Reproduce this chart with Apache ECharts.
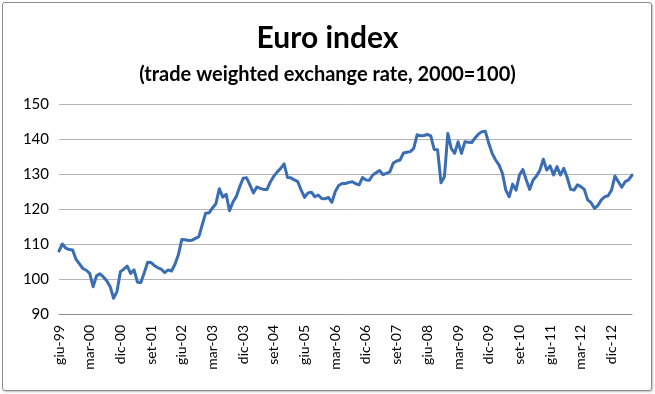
<!DOCTYPE html>
<html>
<head>
<meta charset="utf-8">
<script src="https://cdn.jsdelivr.net/npm/echarts@6/dist/echarts.min.js"></script>
<style>
html,body{margin:0;padding:0;background:#fff;}
#frame{position:absolute;left:2px;top:2px;width:648px;height:387px;border:1px solid #8c8c8c;border-radius:3px;box-shadow:1px 1px 2px rgba(0,0,0,0.25);}
#chart{position:absolute;left:0;top:0;width:655px;height:394px;}
</style>
</head>
<body>
<div id="frame"></div>
<div id="chart"></div>
<script>
// Month abbreviations (Italian) and span of the series
var monthNames = ['gen','feb','mar','apr','mag','giu','lug','ago','set','ott','nov','dic'];
var startYear = 1999, startMonth = 5; // giu-99
// Euro index, monthly, giu-99 .. giu-13
var euroIndex = [
108.0,110.0,108.8,108.4,108.3,105.6,104.3,103.0,102.5,101.6,
97.8,100.9,101.5,100.6,99.5,97.8,94.5,96.4,102.1,102.8,
103.7,101.6,102.6,99.1,99.0,101.8,104.8,104.7,103.8,103.2,
102.8,101.8,102.6,102.3,104.2,106.9,111.3,111.2,111.0,111.1,
111.6,112.1,115.5,118.8,118.9,120.3,121.5,125.8,123.4,124.2,
119.5,122.0,123.6,126.4,128.8,128.9,126.8,124.6,126.3,125.9,
125.6,125.6,127.8,129.4,130.6,131.6,132.9,129.0,128.9,128.3,
127.8,125.4,123.3,124.6,124.8,123.5,124.0,123.0,122.9,123.3,
121.9,125.0,126.7,127.3,127.3,127.6,127.8,127.2,126.9,129.0,
128.3,128.2,129.7,130.4,131.0,129.8,130.2,130.6,133.1,133.7,
134.0,136.0,136.2,136.4,137.3,141.2,140.9,141.0,141.3,140.9,
137.0,136.9,127.5,129.2,141.6,137.3,135.9,139.2,135.9,139.2,
139.1,139.0,140.3,141.4,142.1,142.2,138.8,135.9,134.0,132.6,
130.2,125.4,123.5,127.1,125.4,129.7,131.3,128.3,125.6,128.3,
129.4,131.1,134.2,131.1,132.3,129.7,132.1,129.7,131.6,129.0,
125.6,125.4,126.9,126.4,125.6,122.6,121.8,120.2,121.0,122.6,
123.5,123.8,125.4,129.4,127.8,126.2,127.8,128.3,129.7
];
var yTicks = {min: 90, max: 150, interval: 10};
var titleText = 'Euro index';
var subtitleText = '(trade weighted exchange rate, 2000=100)';

var categories = [];
for (var k = 0; k < euroIndex.length; k++) {
  var m = (startMonth + k) % 12;
  var y = startYear + Math.floor((startMonth + k) / 12);
  categories.push(monthNames[m] + '-' + String(y % 100).padStart(2, '0'));
}

var font = 'Lato, "Open Sans", sans-serif';
var chart = echarts.init(document.getElementById('chart'), null, {renderer: 'canvas'});
chart.setOption({
  animation: false,
  backgroundColor: 'transparent',
  title: [
    {text: titleText, left: 'center', top: 18,
     textStyle: {fontFamily: font, fontSize: 30, fontWeight: 'bold', color: '#000'}},
    {text: subtitleText, left: 'center', top: 60,
     textStyle: {fontFamily: font, fontSize: 20, fontWeight: 'bold', color: '#000'}}
  ],
  grid: {left: 59, right: 23, top: 104, bottom: 80, containLabel: false},
  xAxis: {
    type: 'category',
    data: categories,
    boundaryGap: false,
    axisLine: {show: true, lineStyle: {color: '#8f8f8f', width: 1}},
    axisTick: {show: false},
    axisLabel: {interval: 8, rotate: 90, margin: 11, color: '#000',
                fontFamily: font, fontSize: 14},
    splitLine: {show: false}
  },
  yAxis: {
    type: 'value',
    min: yTicks.min, max: yTicks.max, interval: yTicks.interval,
    axisLine: {show: false},
    axisTick: {show: false},
    axisLabel: {margin: 10, color: '#000', fontFamily: font, fontSize: 15},
    splitLine: {show: true, lineStyle: {color: '#b4b4b4', width: 1}}
  },
  series: [{
    type: 'line',
    data: euroIndex,
    showSymbol: false,
    smooth: false,
    lineStyle: {color: '#3a6db4', width: 3, join: 'round', cap: 'round'},
    itemStyle: {color: '#3a6db4'}
  }]
});
</script>
</body>
</html>
